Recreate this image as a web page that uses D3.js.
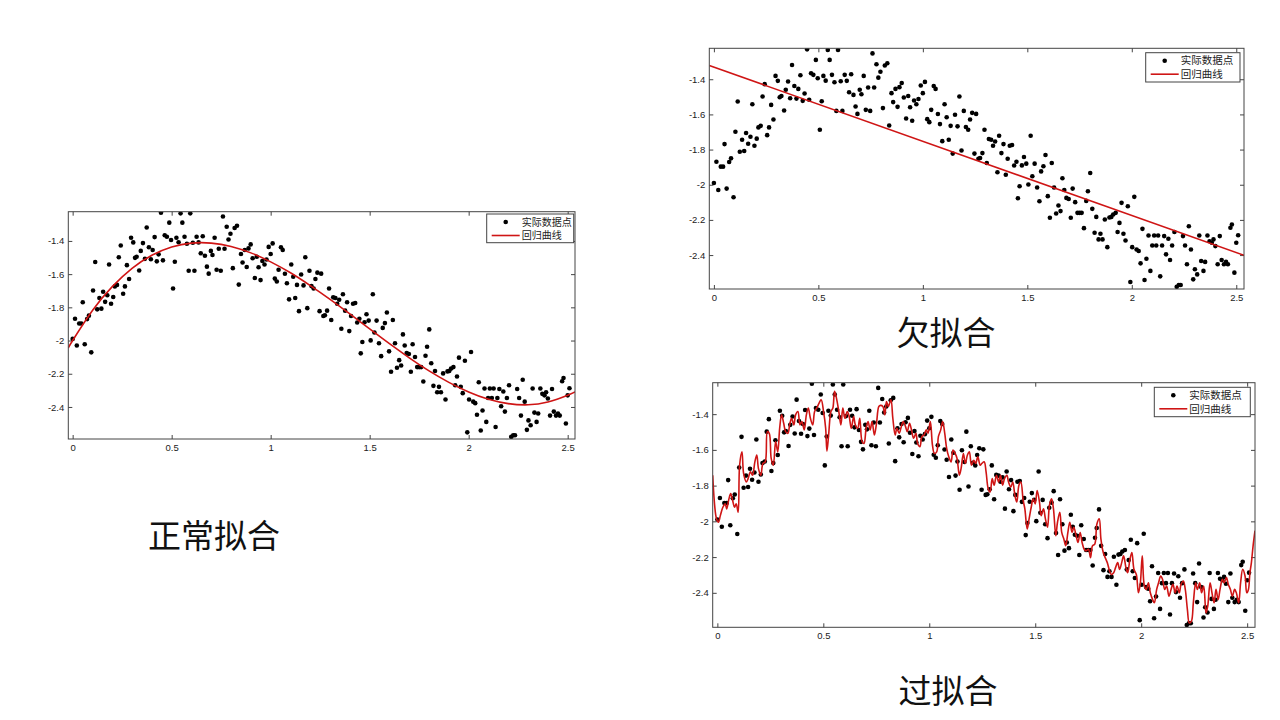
<!DOCTYPE html>
<html>
<head>
<meta charset="utf-8">
<script src="https://cdn.jsdelivr.net/npm/d3@7"></script>
<style>
  html, body { margin: 0; padding: 0; background: #fff; }
  svg { display: block; }
</style>
</head>
<body>
<div class="common"></div>
<script>
// 坐标轴刻度
const xTicks = [0, 0.5, 1, 1.5, 2, 2.5]
const yTicks = [-2.4, -2.2, -2, -1.8, -1.6, -1.4]
const legendLabels = ['实际数据点', '回归曲线']
const titles = ['正常拟合', '欠拟合', '过拟合']

// 实际数据点（三幅图共用）
const pointX = [
  0, 0.012, 0.021, 0.033, 0.044, 0.051, 0.061, 0.073, 0.082, 0.094,
  0.103, 0.114, 0.124, 0.135, 0.145, 0.154, 0.164, 0.175, 0.184, 0.194,
  0.205, 0.213, 0.224, 0.233, 0.243, 0.255, 0.264, 0.274, 0.285, 0.295,
  0.306, 0.315, 0.323, 0.336, 0.344, 0.355, 0.365, 0.374, 0.385, 0.395,
  0.404, 0.414, 0.425, 0.434, 0.446, 0.456, 0.465, 0.476, 0.488, 0.497,
  0.507, 0.516, 0.524, 0.535, 0.545, 0.554, 0.565, 0.577, 0.586, 0.594,
  0.607, 0.615, 0.626, 0.636, 0.647, 0.657, 0.668, 0.678, 0.687, 0.698,
  0.706, 0.717, 0.727, 0.738, 0.748, 0.759, 0.767, 0.778, 0.787, 0.797,
  0.809, 0.818, 0.830, 0.839, 0.850, 0.858, 0.869, 0.879, 0.888, 0.899,
  0.909, 0.920, 0.930, 0.939, 0.949, 0.958, 0.969, 0.979, 0.990, 1.000,
  1.010, 1.021, 1.031, 1.040, 1.052, 1.061, 1.072, 1.082, 1.093, 1.104,
  1.114, 1.124, 1.133, 1.143, 1.154, 1.166, 1.175, 1.185, 1.196, 1.206,
  1.217, 1.226, 1.236, 1.247, 1.255, 1.266, 1.274, 1.285, 1.295, 1.306,
  1.316, 1.327, 1.336, 1.346, 1.357, 1.365, 1.376, 1.386, 1.397, 1.406,
  1.416, 1.427, 1.437, 1.448, 1.455, 1.463, 1.474, 1.484, 1.495, 1.505,
  1.516, 1.524, 1.535, 1.547, 1.558, 1.566, 1.577, 1.587, 1.598, 1.608,
  1.617, 1.628, 1.638, 1.649, 1.659, 1.668, 1.677, 1.687, 1.698, 1.708,
  1.717, 1.729, 1.740, 1.750, 1.760, 1.771, 1.782, 1.790, 1.801, 1.811,
  1.822, 1.830, 1.841, 1.850, 1.860, 1.871, 1.883, 1.893, 1.902, 1.911,
  1.923, 1.932, 1.941, 1.951, 1.960, 1.970, 1.981, 1.993, 2.002, 2.012,
  2.023, 2.033, 2.042, 2.051, 2.061, 2.070, 2.080, 2.089, 2.098, 2.107,
  2.117, 2.126, 2.136, 2.145, 2.155, 2.164, 2.175, 2.183, 2.193, 2.204,
  2.215, 2.225, 2.234, 2.245, 2.255, 2.264, 2.273, 2.283, 2.294, 2.302,
  2.313, 2.323, 2.332, 2.343, 2.351, 2.362, 2.372, 2.383, 2.391, 2.400,
  2.411, 2.421, 2.430, 2.441, 2.451, 2.460, 2.472, 2.479, 2.491, 2.500,
  2.509
]
const pointY = [
  -1.99, -1.869, -2.03, -1.897, -1.897, -1.769, -2.022, -1.871, -1.85, -2.071,
  -1.699, -1.527, -1.812, -1.744, -1.808, -1.706, -1.767, -1.727, -1.542, -1.778,
  -1.738, -1.674, -1.665, -1.498, -1.428, -1.718, -1.674, -1.546, -1.629, -1.381,
  -1.409, -1.502, -1.495, -1.578, -1.46, -1.413, -1.508, -1.319, -1.438, -1.51,
  -1.455, -1.377, -1.523, -1.481, -1.23, -1.517, -1.366, -1.375, -1.29, -1.394,
  -1.687, -1.525, -1.381, -1.408, -1.234, -1.29, -1.375, -1.417, -1.58, -1.234,
  -1.411, -1.58, -1.375, -1.409, -1.474, -1.372, -1.489, -1.555, -1.597, -1.46,
  -1.485, -1.381, -1.574, -1.447, -1.58, -1.253, -1.447, -1.315, -1.391, -1.357,
  -1.564, -1.322, -1.309, -1.663, -1.479, -1.53, -1.455, -1.557, -1.445, -1.421,
  -1.504, -1.623, -1.495, -1.559, -1.636, -1.521, -1.542, -1.512, -1.436, -1.479,
  -1.415, -1.627, -1.644, -1.574, -1.438, -1.455, -1.598, -1.655, -1.752, -1.542,
  -1.616, -1.744, -1.665, -1.823, -1.602, -1.668, -1.498, -1.805, -1.58, -1.672,
  -1.687, -1.629, -1.591, -1.823, -1.597, -1.852, -1.848, -1.82, -1.687, -1.876,
  -1.74, -1.744, -1.778, -1.754, -1.929, -1.721, -1.82, -1.769, -1.943, -1.852,
  -1.778, -1.774, -1.891, -1.869, -2.077, -2.009, -1.89, -1.842, -1.88, -1.999,
  -1.721, -1.952, -1.88, -2.016, -2.094, -1.924, -1.895, -1.831, -2.065, -2.188,
  -1.876, -2.016, -2.164, -2.118, -2.15, -1.963, -2.03, -2.075, -2.081, -2.188,
  -2.022, -2.099, -2.16, -2.16, -2.16, -2.247, -2.092, -2.037, -1.933, -2.137,
  -2.273, -2.183, -2.311, -2.279, -2.311, -2.198, -2.355, -2.186, -2.183, -2.169,
  -2.16, -2.269, -2.217, -2.103, -2.279, -2.317, -2.122, -2.553, -2.355, -2.069,
  -2.368, -2.377, -2.447, -2.251, -2.542, -2.421, -2.289, -2.49, -2.346, -2.289,
  -2.346, -2.289, -2.521, -2.346, -2.292, -2.396, -2.307, -2.428, -2.346, -2.269,
  -2.58, -2.57, -2.57, -2.292, -2.346, -2.452, -2.236, -2.368, -2.538, -2.481,
  -2.51, -2.289, -2.434, -2.49, -2.439, -2.289, -2.321, -2.33, -2.311, -2.349,
  -2.452, -2.292, -2.428, -2.452, -2.439, -2.452, -2.245, -2.226, -2.5, -2.33,
  -2.287
]

// 正常拟合曲线
const normalFitX = [-0.022, 0, 0.1, 0.2, 0.3, 0.4, 0.5, 0.6, 0.7, 0.8, 0.9, 1.0, 1.1, 1.2,
  1.3, 1.4, 1.5, 1.6, 1.7, 1.8, 1.9, 2.0, 2.1, 2.2, 2.3, 2.4, 2.5, 2.537]
const normalFitY = [-2.045, -2.0, -1.819, -1.675, -1.565, -1.486, -1.436, -1.413, -1.413, -1.433,
  -1.472, -1.526, -1.592, -1.669, -1.752, -1.840, -1.930, -2.019, -2.104, -2.183, -2.252,
  -2.310, -2.354, -2.380, -2.387, -2.370, -2.329, -2.309]

// 欠拟合直线
const underFitX = [-0.022, 2.537]
const underFitY = [-1.322, -2.401]

// 过拟合曲线
const overFitX = [
  -0.022, -0.004, 0.005, 0.014, 0.026, 0.037, 0.044, 0.054, 0.063, 0.072,
  0.081, 0.089, 0.098, 0.105, 0.116, 0.124, 0.137, 0.145, 0.156, 0.166,
  0.177, 0.186, 0.194, 0.205, 0.215, 0.226, 0.236, 0.245, 0.254, 0.264,
  0.275, 0.285, 0.294, 0.303, 0.313, 0.322, 0.333, 0.341, 0.350, 0.361,
  0.369, 0.380, 0.390, 0.399, 0.410, 0.420, 0.429, 0.439, 0.450, 0.459,
  0.469, 0.480, 0.490, 0.501, 0.511, 0.517, 0.525, 0.536, 0.545, 0.553,
  0.562, 0.573, 0.583, 0.592, 0.602, 0.613, 0.622, 0.632, 0.643, 0.651,
  0.662, 0.672, 0.683, 0.692, 0.702, 0.711, 0.721, 0.730, 0.741, 0.751,
  0.762, 0.770, 0.781, 0.790, 0.798, 0.807, 0.819, 0.828, 0.839, 0.847,
  0.858, 0.868, 0.877, 0.888, 0.896, 0.907, 0.916, 0.926, 0.937, 0.945,
  0.956, 0.965, 0.975, 0.986, 0.994, 1.005, 1.015, 1.024, 1.035, 1.043,
  1.054, 1.063, 1.073, 1.082, 1.092, 1.103, 1.112, 1.122, 1.131, 1.142,
  1.150, 1.161, 1.170, 1.180, 1.189, 1.199, 1.210, 1.219, 1.229, 1.240,
  1.248, 1.259, 1.268, 1.278, 1.287, 1.297, 1.306, 1.317, 1.327, 1.336,
  1.346, 1.355, 1.366, 1.374, 1.385, 1.394, 1.404, 1.413, 1.423, 1.432,
  1.443, 1.451, 1.462, 1.471, 1.481, 1.490, 1.500, 1.509, 1.520, 1.528,
  1.539, 1.548, 1.558, 1.567, 1.577, 1.586, 1.597, 1.605, 1.616, 1.625,
  1.635, 1.644, 1.654, 1.663, 1.674, 1.682, 1.693, 1.702, 1.712, 1.721,
  1.731, 1.740, 1.751, 1.761, 1.770, 1.781, 1.791, 1.802, 1.810, 1.821,
  1.830, 1.840, 1.851, 1.859, 1.870, 1.879, 1.889, 1.898, 1.908, 1.917,
  1.928, 1.936, 1.947, 1.956, 1.966, 1.977, 1.987, 1.996, 2.005, 2.015,
  2.024, 2.034, 2.043, 2.054, 2.062, 2.073, 2.082, 2.092, 2.101, 2.111,
  2.120, 2.131, 2.141, 2.150, 2.160, 2.169, 2.180, 2.188, 2.199, 2.208,
  2.218, 2.227, 2.237, 2.246, 2.257, 2.265, 2.276, 2.285, 2.295, 2.306,
  2.314, 2.325, 2.334, 2.344, 2.353, 2.363, 2.372, 2.383, 2.391, 2.402,
  2.411, 2.421, 2.430, 2.441, 2.449, 2.460, 2.469, 2.479, 2.490, 2.498,
  2.506, 2.513, 2.520, 2.528, 2.537
]
const overFitY = [
  -1.742, -1.986, -2.005, -1.968, -1.921, -1.902, -1.93, -1.877, -1.845, -1.883,
  -1.921, -1.902, -1.949, -1.686, -1.611, -1.733, -1.78, -1.761, -1.723, -1.742,
  -1.667, -1.629, -1.705, -1.742, -1.676, -1.667, -1.498, -1.507, -1.648, -1.686,
  -1.554, -1.611, -1.479, -1.404, -1.451, -1.498, -1.507, -1.46, -1.423, -1.46,
  -1.404, -1.385, -1.46, -1.441, -1.488, -1.404, -1.366, -1.423, -1.46, -1.385,
  -1.366, -1.338, -1.319, -1.385, -1.479, -1.607, -1.517, -1.385, -1.366, -1.272,
  -1.31, -1.385, -1.46, -1.366, -1.423, -1.385, -1.413, -1.479, -1.413, -1.46,
  -1.479, -1.423, -1.554, -1.564, -1.479, -1.441, -1.488, -1.441, -1.517, -1.451,
  -1.357, -1.351, -1.357, -1.404, -1.329, -1.357, -1.319, -1.423, -1.517, -1.479,
  -1.507, -1.47, -1.441, -1.47, -1.498, -1.451, -1.488, -1.535, -1.507, -1.564,
  -1.582, -1.526, -1.517, -1.488, -1.507, -1.441, -1.573, -1.62, -1.611, -1.526,
  -1.488, -1.441, -1.507, -1.592, -1.639, -1.667, -1.601, -1.62, -1.648, -1.742,
  -1.705, -1.62, -1.676, -1.629, -1.611, -1.686, -1.658, -1.676, -1.639, -1.686,
  -1.676, -1.667, -1.723, -1.817, -1.836, -1.761, -1.798, -1.742, -1.78, -1.742,
  -1.798, -1.761, -1.742, -1.78, -1.808, -1.78, -1.855, -1.892, -1.798, -1.78,
  -1.883, -1.93, -2.043, -1.986, -1.921, -1.874, -1.902, -1.827, -1.892, -1.968,
  -1.93, -1.986, -2.033, -1.911, -1.874, -1.93, -2.08, -2.005, -1.949, -2.062,
  -2.099, -2.137, -2.062, -2.005, -2.062, -2.033, -2.08, -2.118, -2.062, -2.118,
  -2.156, -2.165, -2.156, -2.203, -2.137, -2.127, -2.015, -1.986, -2.099, -2.174,
  -2.203, -2.231, -2.278, -2.297, -2.288, -2.259, -2.231, -2.269, -2.231, -2.193,
  -2.259, -2.288, -2.212, -2.174, -2.269, -2.297, -2.4, -2.344, -2.193, -2.362,
  -2.381, -2.344, -2.4, -2.438, -2.456, -2.381, -2.344, -2.306, -2.325, -2.381,
  -2.362, -2.419, -2.381, -2.353, -2.4, -2.362, -2.4, -2.353, -2.334, -2.381,
  -2.494, -2.569, -2.559, -2.456, -2.344, -2.381, -2.344, -2.4, -2.362, -2.513,
  -2.475, -2.344, -2.4, -2.456, -2.381, -2.438, -2.381, -2.325, -2.344, -2.315,
  -2.353, -2.381, -2.419, -2.381, -2.4, -2.456, -2.344, -2.269, -2.306, -2.4,
  -2.381, -2.288, -2.231, -2.137, -2.052
]

// 画布与坐标范围
const width = 1280
const height = 720
const domainX = [-0.022, 2.537]
const domainY = [-2.593, -1.224]
const axisColor = '#444'
const fitColor = '#cf1515'

// 三幅子图的位置
const panels = [
  {
    left: 68.3, right: 575, top: 211.7, bottom: 439,
    fitX: normalFitX, fitY: normalFitY, curve: d3.curveNatural,
    legend: { x: 486.7, y: 214, w: 87, h: 28.7, fs: 10 },
    title: { text: titles[0], x: 214, y: 548 },
  },
  {
    left: 709.3, right: 1244, top: 48.3, bottom: 289,
    fitX: underFitX, fitY: underFitY, curve: d3.curveLinear,
    legend: { x: 1145.7, y: 52.7, w: 94.3, h: 29.3, fs: 10.5 },
    title: { text: titles[1], x: 946, y: 344.5 },
  },
  {
    left: 712.7, right: 1255, top: 382.7, bottom: 627.3,
    fitX: overFitX, fitY: overFitY, curve: d3.curveCatmullRom.alpha(0.5),
    legend: { x: 1154.3, y: 387.3, w: 96, h: 29.4, fs: 10.5 },
    title: { text: titles[2], x: 948, y: 703 },
  },
]

// 创建svg画布
const svg = d3
  .select('.common')
  .append('svg')
  .attr('width', width)
  .attr('height', height)

panels.forEach((p, i) => drawPanel(p, i))

// 画一幅子图
function drawPanel(p, i) {
  const x = d3.scaleLinear().domain(domainX).range([p.left, p.right])
  const y = d3.scaleLinear().domain(domainY).range([p.bottom, p.top])
  const g = svg.append('g')

  // 裁剪区域
  g.append('clipPath')
    .attr('id', 'clip' + i)
    .append('rect')
    .attr('x', p.left)
    .attr('y', p.top)
    .attr('width', p.right - p.left)
    .attr('height', p.bottom - p.top)

  // 刻度（朝内），四条边都有
  const fmt = d => String(d)
  const styleAxis = a => {
    a.select('.domain').remove()
    a.selectAll('line').attr('stroke', axisColor)
    a.selectAll('text')
      .attr('fill', '#222')
      .style('font-family', '"Liberation Sans", Arial, sans-serif')
      .style('font-size', '9.5px')
  }
  g.append('g')
    .attr('transform', `translate(0,${p.bottom})`)
    .call(d3.axisBottom(x).tickValues(xTicks).tickFormat(fmt).tickSizeInner(-4).tickSizeOuter(0).tickPadding(5))
    .call(styleAxis)
  g.append('g')
    .attr('transform', `translate(${p.left},0)`)
    .call(d3.axisLeft(y).tickValues(yTicks).tickFormat(fmt).tickSizeInner(-4).tickSizeOuter(0).tickPadding(4))
    .call(styleAxis)
  g.append('g')
    .attr('transform', `translate(0,${p.top})`)
    .call(d3.axisTop(x).tickValues(xTicks).tickFormat('').tickSizeInner(-4).tickSizeOuter(0))
    .call(styleAxis)
  g.append('g')
    .attr('transform', `translate(${p.right},0)`)
    .call(d3.axisRight(y).tickValues(yTicks).tickFormat('').tickSizeInner(-4).tickSizeOuter(0))
    .call(styleAxis)

  // 数据点
  const plot = g.append('g').attr('clip-path', `url(#clip${i})`)
  plot.selectAll('circle')
    .data(d3.range(pointX.length))
    .join('circle')
    .attr('cx', k => x(pointX[k]))
    .attr('cy', k => y(pointY[k]))
    .attr('r', 2.3)
    .attr('fill', '#000')

  // 回归曲线
  const line = d3.line()
    .x(k => x(p.fitX[k]))
    .y(k => y(p.fitY[k]))
    .curve(p.curve)
  plot.append('path')
    .datum(d3.range(p.fitX.length))
    .attr('d', line)
    .attr('fill', 'none')
    .attr('stroke', fitColor)
    .attr('stroke-width', 1.6)
    .attr('stroke-linejoin', 'round')

  // 外框
  g.append('rect')
    .attr('x', p.left)
    .attr('y', p.top)
    .attr('width', p.right - p.left)
    .attr('height', p.bottom - p.top)
    .attr('fill', 'none')
    .attr('stroke', axisColor)
    .attr('stroke-width', 1)

  // 图例
  const L = p.legend
  const lg = g.append('g').attr('transform', `translate(${L.x},${L.y})`)
  lg.append('rect')
    .attr('width', L.w)
    .attr('height', L.h)
    .attr('fill', '#fff')
    .attr('stroke', axisColor)
  lg.append('circle').attr('cx', 19).attr('cy', 8).attr('r', 2.3).attr('fill', '#000')
  lg.append('line')
    .attr('x1', 5).attr('x2', 33)
    .attr('y1', 21.5).attr('y2', 21.5)
    .attr('stroke', fitColor)
    .attr('stroke-width', 1.6)
  lg.selectAll('text.lab')
    .data(legendLabels)
    .join('text')
    .attr('class', 'lab')
    .attr('x', 35)
    .attr('y', (d, k) => (k === 0 ? 8 : 21.5))
    .attr('dy', '0.36em')
    .attr('fill', '#222')
    .style('font-family', '"Noto Sans CJK SC", sans-serif')
    .style('font-size', L.fs + 'px')
    .text(d => d)

  // 标题
  svg.append('text')
    .attr('x', p.title.x)
    .attr('y', p.title.y)
    .attr('text-anchor', 'middle')
    .attr('fill', '#111')
    .style('font-family', '"Noto Sans CJK SC", sans-serif')
    .style('font-size', '33px')
    .text(p.title.text)
}
</script>
</body>
</html>
